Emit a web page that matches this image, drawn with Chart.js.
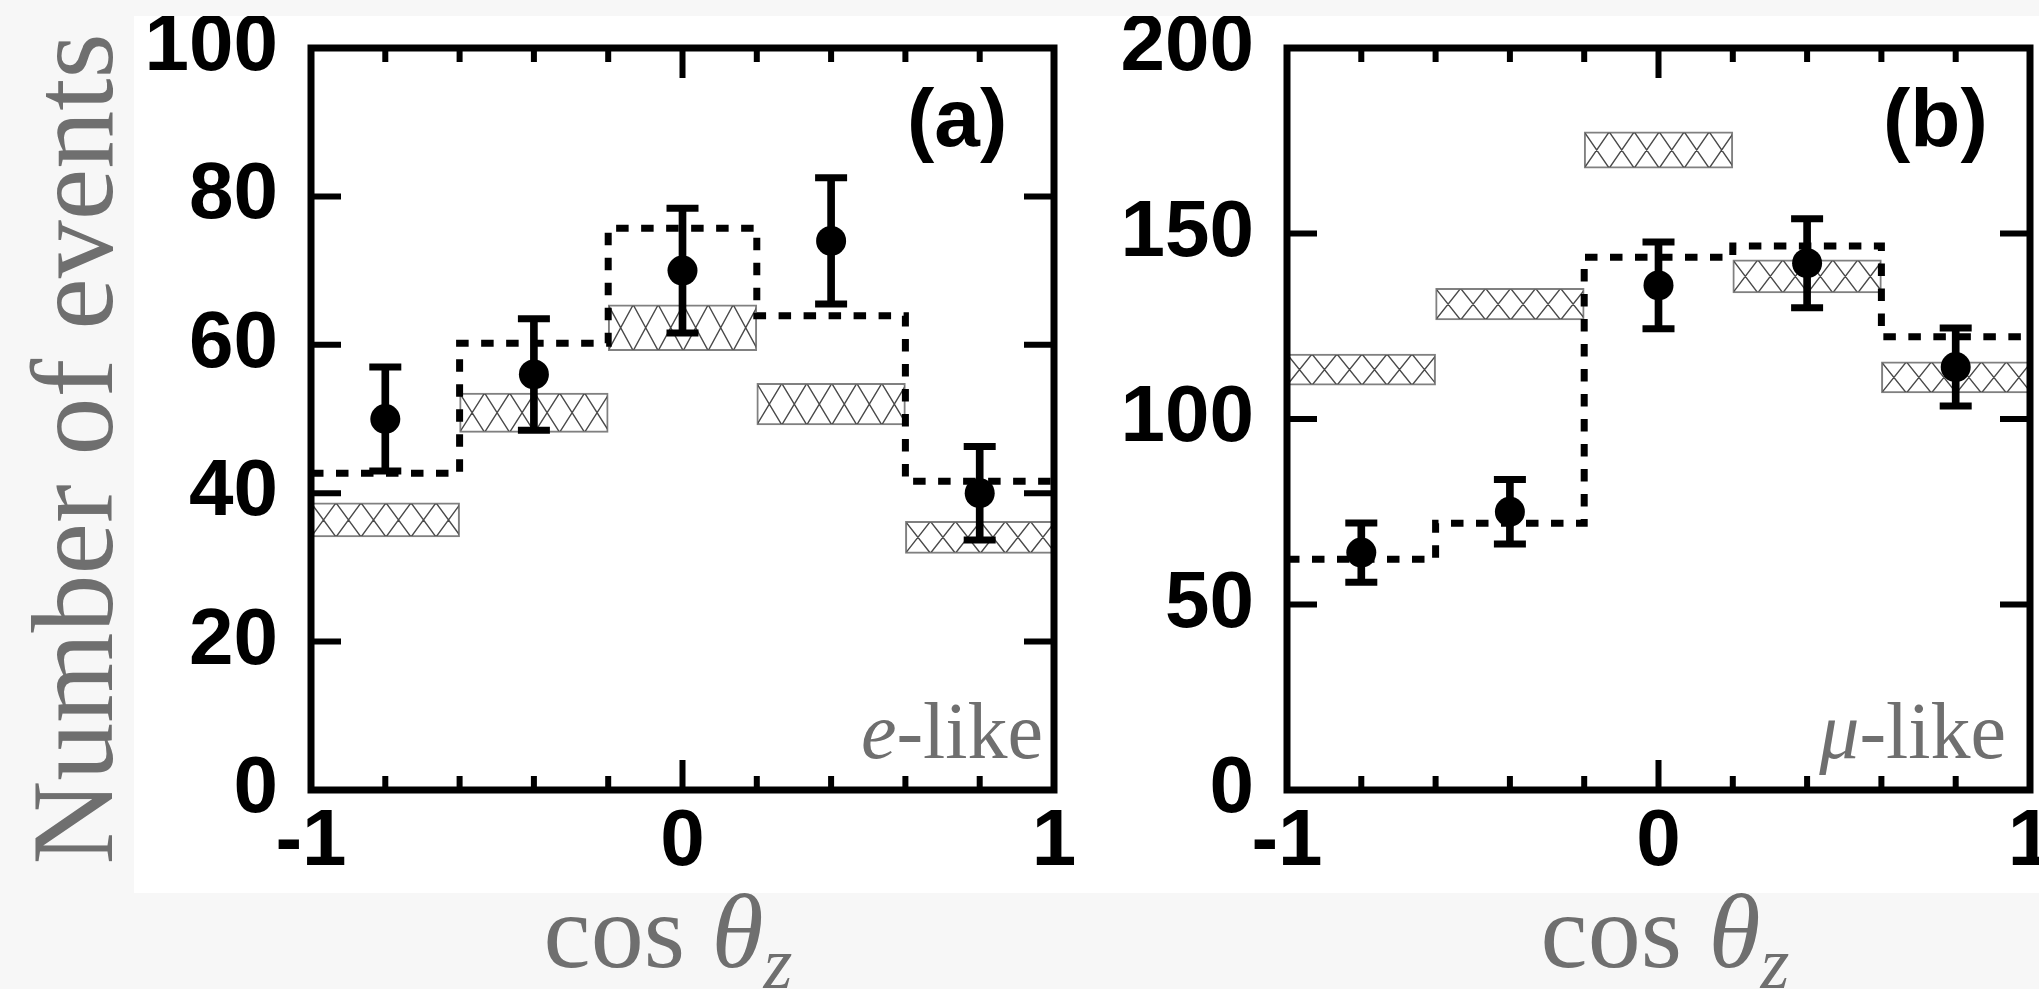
<!DOCTYPE html>
<html>
<head>
<meta charset="utf-8">
<title>Zenith angle distributions</title>
<script src="https://cdn.jsdelivr.net/npm/chart.js@4.4.1/dist/chart.umd.min.js"></script>
<style>
  html, body { margin: 0; padding: 0; }
  body { width: 2039px; height: 989px; background: #f7f7f7; position: relative; overflow: hidden; }
  .sheet { position: absolute; left: 134px; top: 16px; width: 1905px; height: 877px; background: #fff; }
  canvas { position: absolute; top: 16px; }
  #chartE { left: 134px; }
  #chartMu { left: 1084px; }
  .tex { position: absolute; font-family: "Liberation Serif", serif; color: #6f6f6f; line-height: 1; white-space: nowrap; }
  .ytitle { font-size: 116px; width: 1000px; height: 116px; text-align: center; left: -427px; top: 391px; transform: rotate(-90deg); }
  .xtitle { font-size: 106px; top: 879px; width: 600px; text-align: center; }
  .xtitle .sub { font-size: 0.7em; position: relative; top: 0.28em; }
  .flavour { font-size: 80px; top: 691px; width: 300px; text-align: right; }
</style>
</head>
<body>
<div class="sheet"></div>
<canvas id="chartE" width="950" height="877"></canvas>
<canvas id="chartMu" width="1000" height="877"></canvas>

<div class="tex ytitle">Number of events</div>
<div class="tex xtitle" style="left:368px">cos <i>θ</i><i class="sub">z</i></div>
<div class="tex xtitle" style="left:1365px">cos <i>θ</i><i class="sub">z</i></div>
<div class="tex flavour" style="left:743px"><i>e</i>-like</div>
<div class="tex flavour" style="left:1706px"><i>μ</i>-like</div>

<script>
// cos(zenith) bin centres, each bin is 0.4 wide
const cosBins = [-0.8, -0.4, 0, 0.4, 0.8];
const binHalfWidth = 0.2;

// e-like sample
const eData = [50, 56, 70, 74, 40];
const eErr = [7, 7.5, 8.4, 8.5, 6.3];
const eMC = [42.7, 60.2, 75.7, 63.9, 41.6];
const eBandLow = [34.1, 48.2, 59.2, 49.2, 31.9];
const eBandHigh = [38.7, 53.5, 65.4, 54.8, 36.2];

// mu-like sample
const muData = [64, 75, 136, 142, 114];
const muErr = [8, 8.7, 11.7, 12, 10.5];
const muMC = [62.2, 71.9, 143.6, 146.6, 122.2];
const muBandLow = [109.1, 126.7, 167.6, 134.0, 107.0];
const muBandHigh = [117.5, 135.2, 177.4, 142.9, 115.4];

const tickFont = { family: 'Liberation Sans', weight: 'bold', size: 80 };

// frame around the plot area with inward ticks on all four sides
const frameTicks = {
  id: 'frameTicks',
  afterDraw(chart) {
    const { ctx, chartArea: a, scales: { x, y } } = chart;
    ctx.save();
    ctx.strokeStyle = '#000';
    ctx.lineCap = 'butt';
    ctx.lineWidth = 6;
    ctx.beginPath();
    for (let i = -4; i <= 4; i++) {
      const v = i * 0.2;
      const px = x.getPixelForValue(v);
      const len = i === 0 ? 30 : 14;
      ctx.moveTo(px, a.bottom); ctx.lineTo(px, a.bottom - len);
      ctx.moveTo(px, a.top); ctx.lineTo(px, a.top + len);
    }
    y.ticks.forEach(t => {
      if (t.value === y.min || t.value === y.max) return;
      const py = y.getPixelForValue(t.value);
      ctx.moveTo(a.left, py); ctx.lineTo(a.left + 30, py);
      ctx.moveTo(a.right, py); ctx.lineTo(a.right - 30, py);
    });
    ctx.stroke();
    ctx.lineWidth = 7;
    ctx.strokeRect(a.left, a.top, a.right - a.left, a.bottom - a.top);
    ctx.restore();
  }
};

// cross-hatching inside the expectation bands
const hatch = {
  id: 'hatch',
  afterDatasetDraw(chart, args) {
    const ds = chart.data.datasets[args.index];
    if (!ds.hatched) return;
    const ctx = chart.ctx;
    const p = 25;
    args.meta.data.forEach(bar => {
      const { x, y, base, width } = bar.getProps(['x', 'y', 'base', 'width'], true);
      const left = x - width / 2;
      const top = Math.min(y, base);
      const h = Math.abs(base - y);
      ctx.save();
      ctx.beginPath();
      ctx.rect(left + 1, top + 1, width - 2, h - 2);
      ctx.clip();
      ctx.beginPath();
      for (let sx = left - p; sx < left + width + p; sx += p) {
        ctx.moveTo(sx, top); ctx.lineTo(sx + p, top + h);
        ctx.moveTo(sx + p, top); ctx.lineTo(sx, top + h);
      }
      ctx.strokeStyle = '#4a4a4a';
      ctx.lineWidth = 1.4;
      ctx.stroke();
      ctx.restore();
    });
  }
};

// panel letter in the upper right of the frame
const panelTag = {
  id: 'panelTag',
  afterDraw(chart, args, opts) {
    const { ctx, chartArea: a } = chart;
    ctx.save();
    ctx.font = 'bold 82px "Liberation Sans"';
    ctx.fillStyle = '#000';
    ctx.textAlign = 'left';
    ctx.textBaseline = 'alphabetic';
    ctx.fillText(opts.text, a.left + 596, a.top + 98);
    ctx.restore();
  }
};

function makePanel(canvasId, tag, values, errs, mc, bandLow, bandHigh, yMax, yStep, yAxisWidth, padRight) {
  const edges = cosBins.map(c => c - binHalfWidth).concat([cosBins[cosBins.length - 1] + binHalfWidth]);
  const mcSteps = edges.map((e, i) => ({ x: e, y: mc[Math.min(i, mc.length - 1)] }));

  const bands = cosBins.map((c, i) => ({ x: c, y: [bandLow[i], bandHigh[i]] }));
  const errBars = cosBins.map((c, i) => ({ x: c, y: [values[i] - errs[i], values[i] + errs[i]] }));
  const caps = [];
  cosBins.forEach((c, i) => {
    caps.push({ x: c, y: values[i] + errs[i] });
    caps.push({ x: c, y: values[i] - errs[i] });
  });
  const points = cosBins.map((c, i) => ({ x: c, y: values[i] }));

  return new Chart(document.getElementById(canvasId), {
    type: 'scatter',
    data: {
      datasets: [
        {
          type: 'bar', label: 'expected band', data: bands, hatched: true,
          backgroundColor: '#fff', borderColor: '#808080', borderWidth: 2, borderSkipped: false,
          barPercentage: 1, categoryPercentage: 1, grouped: false, order: 5
        },
        {
          type: 'line', label: 'best fit', data: mcSteps, stepped: 'before',
          borderColor: '#000', borderWidth: 7, borderDash: [12.5, 12.5], borderCapStyle: 'butt',
          pointRadius: 0, fill: false, order: 4
        },
        {
          type: 'bar', label: 'error', data: errBars, backgroundColor: '#000',
          barThickness: 7, grouped: false, borderWidth: 0, order: 3
        },
        {
          type: 'scatter', label: 'caps', data: caps, pointStyle: 'line',
          pointRadius: 16, borderColor: '#000', borderWidth: 7, order: 2
        },
        {
          type: 'scatter', label: 'data', data: points, pointStyle: 'circle',
          pointRadius: 15, backgroundColor: '#000', borderWidth: 0, order: 1
        }
      ]
    },
    options: {
      responsive: false,
      animation: false,
      events: [],
      layout: { padding: { left: 0, top: 32, right: padRight, bottom: 0 } },
      plugins: {
        legend: { display: false },
        tooltip: { enabled: false },
        panelTag: { text: tag }
      },
      scales: {
        x: {
          type: 'linear', min: -1, max: 1, offset: false,
          grid: { display: false, drawTicks: false, offset: false },
          border: { display: false },
          ticks: {
            stepSize: 1, padding: 5, color: '#000', font: tickFont,
            maxRotation: 0, autoSkip: false, callback: v => String(v)
          },
          afterFit(s) { s.height = 103; s.paddingLeft = 0; s.paddingRight = 0; }
        },
        y: {
          type: 'linear', min: 0, max: yMax,
          grid: { display: false, drawTicks: false },
          border: { display: false },
          ticks: { stepSize: yStep, padding: 33, color: '#000', font: tickFont, callback: v => String(v) },
          afterFit(s) { s.width = yAxisWidth; s.paddingTop = 0; s.paddingBottom = 0; }
        }
      }
    },
    plugins: [hatch, frameTicks, panelTag]
  });
}

makePanel('chartE', '(a)', eData, eErr, eMC, eBandLow, eBandHigh, 100, 20, 177, 30);
makePanel('chartMu', '(b)', muData, muErr, muMC, muBandLow, muBandHigh, 200, 50, 203, 54);
</script>
</body>
</html>
